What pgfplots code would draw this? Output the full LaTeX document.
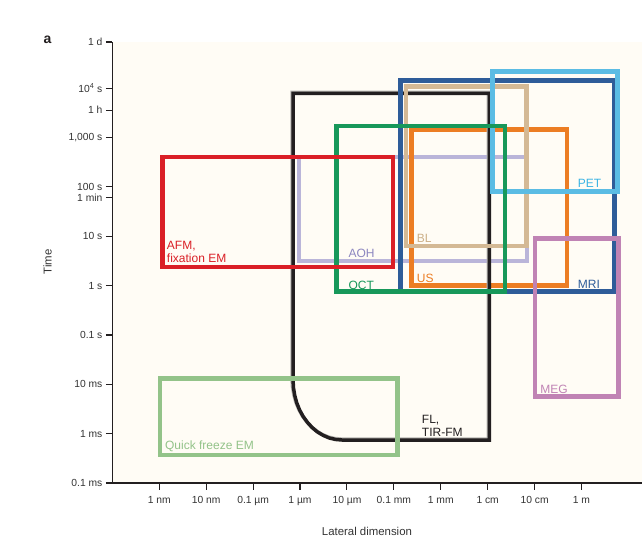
\documentclass[border=0pt]{standalone}
\usepackage{pgfplots}
\pgfplotsset{compat=1.18}
\usepackage{fontspec}
\setmainfont{Liberation Sans}
\definecolor{cream}{HTML}{FFFCF5}
\definecolor{axisblack}{HTML}{231F20}
\definecolor{ticktext}{HTML}{333333}
\definecolor{cRed}{HTML}{DA1F26}
\definecolor{cLav}{HTML}{BAB5D9}
\definecolor{cLavT}{HTML}{8C86C0}
\definecolor{cBlk}{HTML}{231F20}
\definecolor{cShadow}{HTML}{B8B6B2}
\definecolor{cBlue}{HTML}{2E5C99}
\definecolor{cTan}{HTML}{D4B995}
\definecolor{cTanT}{HTML}{CDB088}
\definecolor{cOra}{HTML}{EC7D23}
\definecolor{cPet}{HTML}{5BBCE4}
\definecolor{cPetT}{HTML}{3BB4E4}
\definecolor{cGrn}{HTML}{17985A}
\definecolor{cMeg}{HTML}{C083B4}
\definecolor{cQf}{HTML}{93C389}
\begin{document}
\begin{tikzpicture}
\useasboundingbox (-112.4pt,-60pt) rectangle (529.6pt,483pt);
\begin{axis}[
  at={(0pt,0pt)}, anchor=south west,
  scale only axis, width=529.6pt, height=441pt,
  xmin=-10, xmax=1.29, ymin=-4, ymax=4.9365,
  axis x line=bottom, axis y line=left,
  axis line style={-, line width=1.1pt, color=axisblack},
  axis background/.style={fill=cream},
  tick align=outside, major tick length=6.5pt,
  tick style={line width=1.1pt, color=axisblack},
  minor tick num=0,
  xtick={-9,-8,-7,-6,-5,-4,-3,-2,-1,0},
  xticklabels={1 nm, 10 nm, 0.1 µm, 1 µm, 10 µm, 0.1 mm, 1 mm, 1 cm, 10 cm, 1 m},
  ytick={-4,-3,-2,-1,0,1,1.7782,2,3,3.5563,4,4.9365},
  yticklabels={0.1 ms, 1 ms, 10 ms, 0.1 s, 1 s, 10 s, 1 min, 100 s, {1,000 s}, 1 h, 10\textsuperscript{4} s, 1 d},
  ticklabel style={font=\fontsize{10.3}{11}\selectfont, text=ticktext},
  xticklabel style={yshift=-3.5pt},
  clip=false,
  xlabel={Lateral dimension}, ylabel={Time},
  label style={font=\fontsize{11.4}{12}\selectfont, text=ticktext},
  xlabel style={at={(axis description cs:0.4807,-0.1088)}, anchor=center},
  ylabel style={at={(axis description cs:-0.1225,0.5011)}, anchor=center},
]
% AOH (lavender)
\addplot[cLav, line width=4pt, line join=miter, mark=none] coordinates {(-6.02,0.505) (-1.17,0.505) (-1.17,2.60) (-6.02,2.60)} -- cycle;
% US (orange)
\addplot[cOra, line width=4.5pt, line join=miter, mark=none] coordinates {(-3.62,0.0) (-0.31,0.0) (-0.31,3.167) (-3.62,3.167)} -- cycle;
% FL, TIR-FM (black) with its faint grey shadow
\addplot[cShadow, line width=3.5pt, line join=miter, mark=none, xshift=-1pt, yshift=1pt] coordinates {
(-6.149,-1.913) (-6.149,3.897) (-1.964,3.897) (-1.964,-3.129) (-5.104,-3.129)
(-5.241,-3.118) (-5.375,-3.088) (-5.504,-3.036) (-5.627,-2.967) (-5.741,-2.877)
(-5.842,-2.772) (-5.933,-2.653) (-6.009,-2.521) (-6.070,-2.378) (-6.113,-2.227)
(-6.140,-2.072) (-6.149,-1.913)} -- cycle;
\addplot[cBlk, line width=3.5pt, line join=miter, mark=none] coordinates {
(-6.149,-1.913) (-6.149,3.897) (-1.964,3.897) (-1.964,-3.129) (-5.104,-3.129)
(-5.241,-3.118) (-5.375,-3.088) (-5.504,-3.036) (-5.627,-2.967) (-5.741,-2.877)
(-5.842,-2.772) (-5.933,-2.653) (-6.009,-2.521) (-6.070,-2.378) (-6.113,-2.227)
(-6.140,-2.072) (-6.149,-1.913)} -- cycle;
% MRI (blue)
\addplot[cBlue, line width=4.8pt, line join=miter, mark=none] coordinates {(-3.85,-0.124) (0.70,-0.124) (0.70,4.152) (-3.85,4.152)} -- cycle;
% BL (tan)
\addplot[cTan, line width=4.5pt, line join=miter, mark=none] coordinates {(-3.74,0.80) (-1.17,0.80) (-1.17,4.03) (-3.74,4.03)} -- cycle;
% PET (light blue)
\addplot[cPet, line width=4.8pt, line join=miter, mark=none] coordinates {(-1.89,1.903) (0.77,1.903) (0.77,4.334) (-1.89,4.334)} -- cycle;
% OCT (green)
\addplot[cGrn, line width=4.5pt, line join=miter, mark=none] coordinates {(-5.22,-0.124) (-1.63,-0.124) (-1.63,3.234) (-5.22,3.234)} -- cycle;
% AFM, fixation EM (red)
\addplot[cRed, line width=4.8pt, line join=miter, mark=none] coordinates {(-8.94,0.377) (-4.02,0.377) (-4.02,2.606) (-8.94,2.606)} -- cycle;
% MEG (mauve)
\addplot[cMeg, line width=4.8pt, line join=miter, mark=none] coordinates {(-0.99,-2.25) (0.79,-2.25) (0.79,0.958) (-0.99,0.958)} -- cycle;
% Quick freeze EM (light green)
\addplot[cQf, line width=4.8pt, line join=miter, mark=none] coordinates {(-8.985,-3.433) (-3.925,-3.433) (-3.925,-1.878) (-8.985,-1.878)} -- cycle;

\tikzset{lab/.style={anchor=base west, inner sep=0pt, font=\fontsize{12}{13}\selectfont}}
\node[lab, text=cRed] at (axis cs:-8.842,0.736) {AFM,};
\node[lab, text=cRed] at (axis cs:-8.842,0.465) {fixation EM};
\node[lab, text=cLavT] at (axis cs:-4.97,0.573) {AOH};
\node[lab, text=cGrn] at (axis cs:-4.97,-0.069) {OCT};
\node[lab, text=cTanT] at (axis cs:-3.512,0.883) {BL};
\node[lab, text=cOra] at (axis cs:-3.512,0.073) {US};
\node[lab, text=cPetT] at (axis cs:-0.079,1.992) {PET};
\node[lab, text=cBlue] at (axis cs:-0.079,-0.055) {MRI};
\node[lab, text=cMeg] at (axis cs:-0.883,-2.182) {MEG};
\node[lab, text=cQf] at (axis cs:-8.881,-3.331) {Quick freeze EM};
\node[lab, text=cBlk] at (axis cs:-3.405,-2.790) {FL,};
\node[lab, text=cBlk] at (axis cs:-3.405,-3.048) {TIR-FM};
\end{axis}
\node[font=\bfseries\fontsize{14}{14}\selectfont, text=axisblack] at (-64.9pt,443pt) {a};
\end{tikzpicture}
\end{document}
